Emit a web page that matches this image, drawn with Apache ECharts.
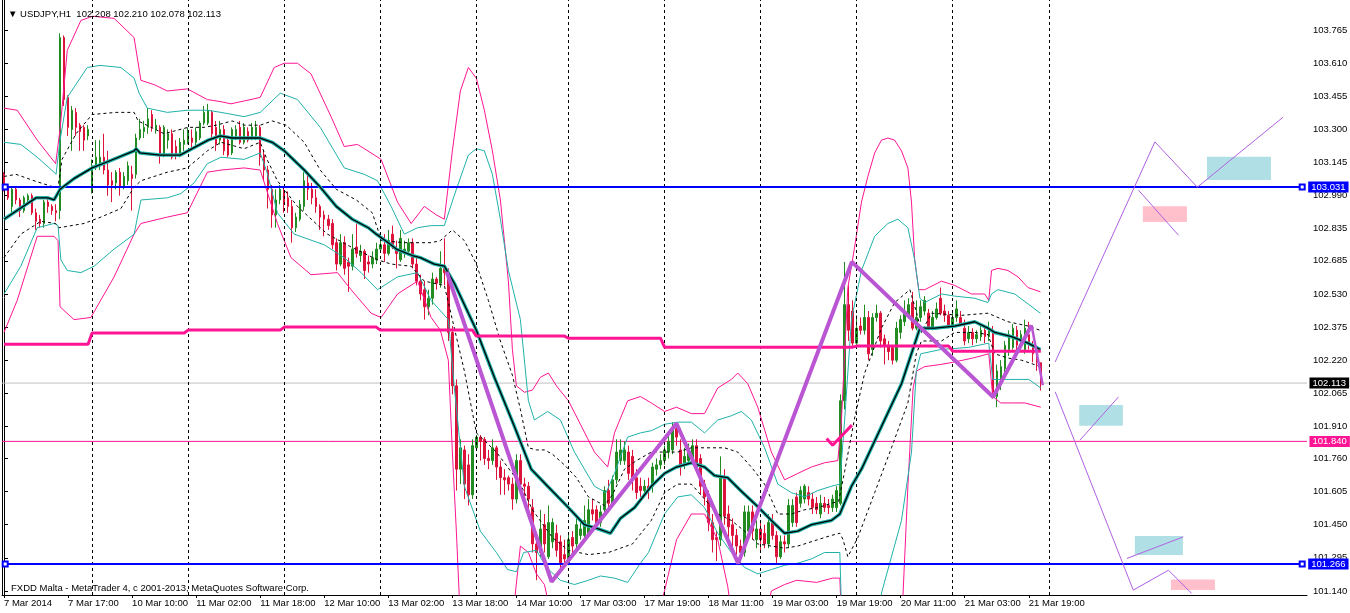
<!DOCTYPE html>
<html><head><meta charset="utf-8">
<script src="https://cdn.jsdelivr.net/npm/echarts@6/dist/echarts.min.js"></script>
<style>html,body{margin:0;padding:0;background:#fff;}#c{width:1350px;height:613px;}</style>
</head><body><div id="c"></div>
<script>
const FONT = '"Liberation Sans", Arial, sans-serif';
const N_SLOTS = 326;
const TICK_STEP = 16;
const tickLabels = ['7 Mar 2014','7 Mar 17:00','10 Mar 10:00','11 Mar 02:00','11 Mar 18:00','12 Mar 10:00','13 Mar 02:00','13 Mar 18:00','14 Mar 10:00','17 Mar 03:00','17 Mar 19:00','18 Mar 11:00','19 Mar 03:00','19 Mar 19:00','20 Mar 11:00','21 Mar 03:00','21 Mar 19:00'];
const yTicks = [103.765,103.610,103.455,103.300,103.145,102.990,102.835,102.685,102.530,102.375,102.220,102.065,101.910,101.760,101.605,101.450,101.295,101.140];
const Y_MIN = 101.121, Y_MAX = 103.906;
const dayStarts = [22,46,70,94,118,141,165,189,213,237,261];

// [open, close, low, high]
const candles = [
[103.09,103.03,103.01,103.10],[103.03,102.98,102.97,103.04],[102.94,103.02,102.91,103.03],[103.02,102.97,102.95,103.03],[102.97,102.92,102.89,102.98],
[102.92,102.98,102.91,102.99],[102.97,102.99,102.96,103.00],[102.99,102.91,102.90,103.00],[102.91,102.87,102.83,102.93],[102.88,102.86,102.84,102.90],
[102.86,102.96,102.84,102.97],[102.96,102.94,102.91,102.98],[102.94,102.92,102.90,102.95],[102.92,102.91,102.87,102.95],[102.92,103.73,102.88,103.75],
[103.73,103.44,103.41,103.74],[103.45,103.31,103.27,103.46],[103.30,103.39,103.20,103.41],[103.38,103.31,103.27,103.40],[103.32,103.29,103.20,103.33],
[103.31,103.25,103.20,103.32],[103.27,103.30,103.25,103.32],[103.01,103.13,103.00,103.16],[103.12,103.17,103.11,103.25],[103.13,103.17,103.11,103.25],
[103.17,103.11,103.09,103.28],[103.11,103.04,102.99,103.20],[103.06,103.04,102.96,103.10],[103.05,103.10,103.02,103.11],[103.10,103.03,102.99,103.12],
[103.03,103.08,103.02,103.10],[103.06,103.13,103.04,103.15],[103.09,103.07,102.92,103.13],[103.09,103.26,103.07,103.28],[103.26,103.30,103.25,103.35],
[103.29,103.31,103.26,103.34],[103.31,103.35,103.28,103.40],[103.37,103.31,103.29,103.39],[103.30,103.32,103.28,103.35],[103.31,103.18,103.14,103.32],
[103.18,103.31,103.17,103.32],[103.25,103.28,103.21,103.30],[103.28,103.17,103.16,103.30],[103.22,103.18,103.16,103.25],[103.18,103.24,103.17,103.26],
[103.23,103.25,103.20,103.30],[103.24,103.29,103.23,103.31],[103.26,103.24,103.21,103.30],[103.24,103.29,103.22,103.31],[103.26,103.33,103.25,103.34],
[103.33,103.38,103.32,103.41],[103.33,103.39,103.32,103.42],[103.38,103.28,103.25,103.39],[103.31,103.23,103.20,103.34],[103.25,103.30,103.23,103.34],
[103.30,103.20,103.18,103.32],[103.25,103.18,103.17,103.27],[103.19,103.30,103.18,103.31],[103.27,103.30,103.25,103.32],[103.31,103.24,103.23,103.34],
[103.24,103.31,103.23,103.33],[103.29,103.25,103.24,103.31],[103.26,103.31,103.25,103.33],[103.27,103.31,103.25,103.34],[103.31,103.17,103.13,103.32],
[103.18,103.11,103.06,103.20],[103.11,103.02,102.93,103.13],[103.02,102.90,102.84,103.04],[102.90,102.97,102.84,103.02],[102.97,103.02,102.95,103.04],
[103.01,102.95,102.91,103.03],[102.98,102.94,102.91,103.01],[102.94,102.84,102.77,102.97],[102.84,102.89,102.82,102.91],[102.88,102.95,102.87,102.97],
[102.94,103.06,102.92,103.10],[103.05,103.02,102.97,103.09],[103.02,102.98,102.95,103.05],[102.98,102.94,102.91,103.02],[102.94,102.89,102.83,102.95],
[102.90,102.88,102.80,102.92],[102.88,102.85,102.83,102.90],[102.86,102.76,102.74,102.88],[102.77,102.67,102.64,102.79],[102.67,102.77,102.66,102.81],
[102.77,102.65,102.62,102.80],[102.68,102.66,102.54,102.70],[102.66,102.74,102.64,102.81],[102.75,102.72,102.70,102.86],[102.71,102.73,102.68,102.76],
[102.73,102.64,102.60,102.74],[102.68,102.67,102.63,102.71],[102.67,102.70,102.65,102.73],[102.69,102.74,102.67,102.77],[102.74,102.76,102.73,102.78],
[102.76,102.72,102.68,102.81],[102.72,102.78,102.71,102.83],[102.81,102.75,102.74,102.85],[102.74,102.72,102.65,102.78],[102.69,102.79,102.68,102.83],
[102.72,102.74,102.70,102.78],[102.73,102.77,102.71,102.79],[102.77,102.67,102.65,102.79],[102.67,102.59,102.57,102.70],[102.59,102.53,102.50,102.62],
[102.55,102.47,102.41,102.59],[102.47,102.51,102.43,102.55],[102.51,102.60,102.48,102.63],[102.60,102.58,102.55,102.61],[102.58,102.65,102.56,102.73],
[102.65,102.63,102.57,102.79],[102.63,102.35,102.31,102.65],[102.35,102.10,102.06,102.38],[102.10,101.71,101.61,102.13],[101.71,101.81,101.64,101.85],
[101.80,101.64,101.57,101.82],[101.73,101.59,101.54,101.78],[101.59,101.82,101.57,101.85],[101.81,101.86,101.80,101.87],[101.86,101.84,101.75,101.87],
[101.85,101.76,101.73,101.86],[101.76,101.75,101.71,101.80],[101.75,101.81,101.73,101.85],[101.81,101.72,101.66,101.82],[101.72,101.67,101.59,101.75],
[101.67,101.66,101.59,101.71],[101.67,101.64,101.61,101.68],[101.64,101.57,101.52,101.67],[101.57,101.75,101.55,101.78],[101.75,101.64,101.61,101.78],
[101.64,101.63,101.58,101.67],[101.63,101.57,101.52,101.65],[101.53,101.36,101.32,101.57],[101.36,101.32,101.19,101.38],[101.32,101.43,101.30,101.52],
[101.45,101.36,101.32,101.50],[101.30,101.46,101.29,101.54],[101.37,101.46,101.34,101.48],[101.41,101.33,101.30,101.45],[101.37,101.27,101.24,101.40],
[101.31,101.29,101.25,101.38],[101.27,101.38,101.26,101.41],[101.39,101.35,101.31,101.42],[101.36,101.45,101.34,101.50],[101.40,101.43,101.38,101.46],
[101.40,101.47,101.38,101.54],[101.41,101.52,101.40,101.57],[101.52,101.50,101.47,101.57],[101.52,101.46,101.44,101.54],[101.46,101.51,101.44,101.54],
[101.52,101.61,101.50,101.63],[101.61,101.55,101.53,101.66],[101.55,101.66,101.54,101.68],[101.66,101.79,101.64,101.85],[101.75,101.80,101.73,101.85],
[101.75,101.80,101.73,101.84],[101.79,101.69,101.66,101.82],[101.77,101.67,101.61,101.80],[101.67,101.60,101.57,101.71],[101.63,101.61,101.58,101.67],
[101.61,101.63,101.59,101.66],[101.63,101.61,101.57,101.67],[101.63,101.72,101.60,101.74],[101.71,101.73,101.68,101.76],[101.73,101.75,101.71,101.78],
[101.75,101.80,101.73,101.82],[101.79,101.84,101.76,101.87],[101.80,101.90,101.78,101.93],[101.90,101.86,101.82,101.92],[101.80,101.72,101.68,101.85],
[101.74,101.77,101.71,101.81],[101.75,101.80,101.73,101.83],[101.76,101.82,101.74,101.85],[101.82,101.72,101.70,101.85],[101.76,101.63,101.59,101.78],
[101.64,101.58,101.54,101.66],[101.59,101.46,101.42,101.61],[101.46,101.38,101.32,101.50],[101.39,101.38,101.28,101.42],[101.38,101.67,101.35,101.77],
[101.67,101.49,101.45,101.71],[101.50,101.44,101.35,101.54],[101.45,101.40,101.34,101.48],[101.40,101.35,101.31,101.43],[101.35,101.32,101.27,101.38],
[101.32,101.51,101.30,101.54],[101.42,101.51,101.40,101.54],[101.51,101.42,101.38,101.54],[101.38,101.43,101.34,101.47],[101.43,101.38,101.33,101.47],
[101.41,101.36,101.34,101.45],[101.36,101.46,101.34,101.50],[101.46,101.40,101.38,101.50],[101.40,101.30,101.27,101.42],[101.30,101.37,101.29,101.40],
[101.37,101.36,101.32,101.40],[101.36,101.54,101.34,101.57],[101.46,101.54,101.44,101.57],[101.58,101.46,101.44,101.60],[101.55,101.61,101.53,101.63],
[101.57,101.63,101.55,101.64],[101.60,101.57,101.54,101.63],[101.57,101.53,101.50,101.60],[101.55,101.52,101.50,101.58],[101.50,101.55,101.48,101.59],
[101.55,101.53,101.51,101.58],[101.54,101.53,101.50,101.57],[101.53,101.57,101.51,101.59],[101.53,101.61,101.51,101.63],[101.55,102.03,101.54,102.06],
[102.03,102.48,101.99,102.68],[102.48,102.36,102.31,102.57],[102.45,102.30,102.28,102.50],[102.30,102.37,102.29,102.43],[102.38,102.36,102.34,102.42],
[102.36,102.42,102.34,102.48],[102.42,102.25,102.22,102.45],[102.27,102.42,102.24,102.44],[102.42,102.44,102.40,102.48],[102.44,102.31,102.28,102.45],
[102.32,102.29,102.20,102.34],[102.29,102.26,102.22,102.31],[102.28,102.22,102.20,102.29],[102.22,102.37,102.21,102.40],[102.35,102.41,102.32,102.43],
[102.40,102.44,102.38,102.50],[102.43,102.48,102.42,102.51],[102.49,102.37,102.36,102.54],[102.37,102.42,102.36,102.50],[102.42,102.47,102.40,102.50],
[102.45,102.50,102.43,102.52],[102.44,102.37,102.36,102.46],[102.37,102.42,102.36,102.45],[102.42,102.46,102.41,102.49],[102.51,102.44,102.43,102.56],
[102.45,102.43,102.40,102.48],[102.43,102.38,102.37,102.45],[102.38,102.42,102.37,102.45],[102.42,102.46,102.40,102.50],[102.42,102.39,102.38,102.45],
[102.37,102.31,102.29,102.41],[102.32,102.35,102.30,102.38],[102.35,102.32,102.29,102.37],[102.32,102.34,102.30,102.36],[102.33,102.36,102.31,102.38],
[102.36,102.33,102.30,102.38],[102.33,102.36,102.31,102.40],[102.36,102.07,102.04,102.38],[102.05,102.17,102.00,102.20],[102.11,102.19,102.08,102.22],
[102.18,102.29,102.16,102.31],[102.27,102.34,102.24,102.36],[102.28,102.37,102.27,102.39],[102.36,102.29,102.26,102.38],[102.29,102.34,102.26,102.36],
[102.27,102.37,102.25,102.41],[102.34,102.29,102.27,102.40],[102.29,102.25,102.21,102.31],[102.25,102.21,102.17,102.27],[102.208,102.113,102.078,102.210]
];

// indicator lines, [bar index, price]
const maLine = [[0,102.88],[4,102.93],[8,102.98],[11,102.98],[12.5,102.97],[14,103.02],[17.5,103.07],[22,103.12],[26,103.15],[32.5,103.20],[33,103.21],[34,103.19],[39,103.18],[44,103.18],[47,103.21],[51,103.25],[54,103.27],[57,103.26],[60,103.26],[64,103.26],[67,103.24],[70,103.20],[75,103.11],[79,103.03],[83,102.94],[87,102.88],[91,102.84],[93,102.81],[96,102.77],[98,102.74],[102,102.71],[104,102.70],[107.5,102.67],[110,102.66],[112.5,102.58],[118,102.36],[122.5,102.14],[127.5,101.91],[131.7,101.71],[135.8,101.63],[141,101.53],[145,101.45],[148.5,101.43],[151.5,101.41],[154,101.48],[157.5,101.53],[161.7,101.63],[165,101.69],[168,101.72],[171.7,101.74],[175,101.72],[177.5,101.68],[180.8,101.67],[184,101.61],[188,101.54],[191.7,101.47],[195,101.41],[198.3,101.42],[201.7,101.45],[206.7,101.47],[208.8,101.50],[211.7,101.63],[214.2,101.71],[219.2,101.91],[224.2,102.11],[228.8,102.37],[232.5,102.37],[237.5,102.38],[242.5,102.40],[245.8,102.37],[247.5,102.35],[251.7,102.33],[255.8,102.30],[258.9,102.27]];
const bandInnerUp = [[0,103.08],[3,103.09],[7.5,103.06],[12.5,103.03],[13.5,103.03],[14.5,103.16],[18,103.28],[22,103.37],[28,103.38],[32.5,103.38],[33.5,103.34],[40,103.28],[46,103.31],[50,103.31],[53,103.32],[57,103.34],[60,103.32],[64,103.32],[67,103.34],[70.5,103.32],[75,103.24],[79,103.11],[83,103.02],[88,102.97],[92,102.91],[94.3,102.78],[100,102.77],[106.7,102.77],[109,102.78],[112,102.83],[115,102.78],[118,102.67],[121,102.50],[124,102.31],[127,102.15],[129,101.99],[131,101.81],[133,101.80],[135,101.80],[137,101.78],[140,101.73],[143,101.67],[146,101.58],[150,101.54],[152,101.59],[155,101.71],[158,101.75],[161.7,101.79],[165,101.79],[168.3,101.79],[171.7,101.81],[175,101.81],[180,101.81],[183.3,101.79],[186.7,101.72],[190,101.64],[193.3,101.50],[196.7,101.50],[200,101.52],[203.3,101.53],[206.7,101.55],[208.5,101.56],[210,101.70],[212.5,101.95],[215,102.16],[219.2,102.37],[222.5,102.49],[226.3,102.55],[228,102.44],[229.2,102.35],[231.7,102.44],[239.2,102.43],[245.8,102.44],[250.8,102.40],[255.8,102.38],[258.8,102.36]];
const bandInnerDn = [[0,102.70],[4.2,102.81],[9.2,102.87],[12.9,102.86],[13.75,102.84],[20,102.86],[24.2,102.89],[29.2,102.93],[32.5,103.03],[34.2,103.06],[40.8,103.10],[45.8,103.12],[50.8,103.20],[54.2,103.24],[60,103.21],[64,103.24],[65.7,103.16],[68.3,103.06],[73.3,102.94],[80.8,102.81],[86.7,102.75],[93.3,102.69],[96.7,102.67],[101.7,102.66],[105,102.59],[110,102.57],[112,102.41],[115,102.17],[118,101.88],[123,101.79],[129,101.64],[132,101.52],[137,101.39],[141,101.33],[146,101.31],[151,101.32],[154,101.34],[157,101.36],[161.7,101.47],[165,101.60],[168.3,101.64],[171.7,101.64],[175,101.57],[178.3,101.50],[181.7,101.47],[185,101.42],[188.3,101.36],[191.7,101.35],[195,101.34],[198.3,101.35],[203.3,101.38],[206.7,101.40],[208.8,101.41],[209.6,101.38],[210.8,101.30],[213.3,101.39],[217.5,101.60],[221.7,101.81],[225.8,102.02],[227.9,102.25],[229.2,102.31],[234.2,102.31],[237.5,102.35],[242.5,102.35],[245.8,102.34],[247.5,102.25],[250.8,102.23],[254.2,102.22],[258.9,102.19]];
const bandMidUp = [[0,103.24],[4.2,103.23],[8.3,103.17],[12.5,103.10],[13,103.09],[14,103.25],[15.8,103.45],[20.8,103.59],[24,103.60],[29.2,103.59],[32.5,103.54],[33.75,103.47],[35.8,103.40],[40.8,103.38],[45.8,103.39],[50.8,103.39],[54.2,103.38],[60,103.36],[64,103.38],[69,103.47],[73.3,103.44],[79,103.31],[85,103.12],[90,103.09],[93.3,103.06],[96.7,102.94],[100,102.81],[103.3,102.84],[106.7,102.85],[110,102.85],[113,103.02],[116,103.18],[118,103.21],[120,103.20],[122,103.09],[124,102.88],[126,102.64],[129,102.41],[131,102.03],[132.5,101.94],[135.8,101.98],[139,101.94],[142.5,101.79],[147.5,101.63],[150.4,101.60],[152.5,101.69],[155.8,101.86],[159,101.88],[161.7,101.89],[165,101.92],[168.3,101.93],[171.7,101.93],[175,101.88],[178.3,101.94],[181.7,101.96],[184.2,101.98],[186.7,101.94],[190,101.81],[193.3,101.64],[196.7,101.60],[200,101.58],[203.3,101.61],[206.7,101.63],[208.8,101.64],[210,101.94],[211.7,102.41],[214.2,102.64],[217.5,102.80],[220.8,102.86],[223.3,102.88],[225.8,102.84],[227.5,102.69],[228.8,102.51],[230,102.49],[234.2,102.53],[237.5,102.52],[242.5,102.51],[245.8,102.49],[246.7,102.53],[248.3,102.55],[252.5,102.53],[258.9,102.44]];
const bandMidDn = [[0,102.53],[4.2,102.66],[8.3,102.84],[12.5,102.86],[13.5,102.85],[14.2,102.69],[15.8,102.64],[19.2,102.63],[22.5,102.66],[27.5,102.74],[32.5,102.81],[34.2,102.97],[40.8,102.98],[44.2,103.00],[47.5,103.05],[50.8,103.14],[54.2,103.17],[60,103.16],[64,103.19],[65.7,103.10],[68.3,102.91],[72.5,102.81],[80,102.76],[85,102.70],[89.2,102.63],[93.3,102.55],[98.3,102.61],[103.3,102.63],[106.7,102.50],[111,102.41],[112.5,102.09],[115,101.63],[119,101.42],[123,101.32],[125.8,101.24],[128,101.23],[129.8,101.32],[133,101.33],[135.5,101.25],[139,101.19],[142.5,101.17],[146,101.19],[149,101.21],[152.5,101.20],[155.8,101.18],[159,101.27],[161,101.32],[165,101.50],[168.3,101.58],[171.7,101.59],[175,101.53],[178.3,101.41],[181.7,101.32],[185,101.25],[188.3,101.22],[191.7,101.24],[195,101.26],[198.3,101.27],[201.7,101.29],[205,101.32],[208.8,101.32],[209.5,100.86],[218,100.86],[219.2,101.13],[224.2,101.47],[226.7,101.79],[227.9,102.17],[229,102.25],[234,102.27],[241,102.28],[246,102.30],[247,102.13],[251,102.13],[256,102.13],[259,102.09]];
const bandOutUp = [[0,103.40],[3.3,103.39],[8.3,103.25],[12.9,103.14],[14,103.30],[15.8,103.67],[19.2,103.81],[22.1,103.83],[27.5,103.82],[32.5,103.73],[34.2,103.53],[37.5,103.51],[40.8,103.48],[45.8,103.49],[50.8,103.44],[54.2,103.43],[56.7,103.42],[64,103.45],[67.5,103.59],[70,103.61],[73.3,103.61],[76.7,103.56],[81.7,103.36],[85,103.22],[88.3,103.23],[91.7,103.19],[94.2,103.16],[98.3,102.96],[101.7,102.86],[105,102.94],[108,102.90],[110,102.88],[112,103.20],[114,103.48],[116,103.59],[118,103.54],[120,103.39],[122,103.20],[124,102.97],[126,102.59],[127,102.27],[128,102.10],[130,102.07],[132,102.08],[134,102.14],[136,102.16],[138,102.10],[141,102.03],[144,101.92],[147.5,101.79],[150.8,101.72],[152.5,101.88],[155.8,102.03],[159,102.05],[161.7,102.02],[165,101.98],[168,102.00],[171.7,101.97],[175,101.97],[178.3,102.09],[181.7,102.13],[183.3,102.16],[185.8,102.11],[188.3,102.00],[191.7,101.79],[195,101.66],[198.3,101.69],[201.7,101.72],[205,101.74],[208.3,101.75],[209.2,101.94],[210.8,102.56],[212.5,102.75],[214.2,102.96],[215.8,103.08],[217.5,103.19],[219.2,103.25],[220.8,103.26],[222.5,103.25],[224.2,103.20],[225.8,103.12],[226.7,102.96],[227.5,102.69],[228.5,102.55],[230,102.55],[234.2,102.59],[237.5,102.57],[241.7,102.53],[245,102.53],[246,102.50],[246.7,102.64],[248.3,102.65],[250.8,102.64],[253.3,102.61],[255.8,102.56],[258.9,102.54]];
const bandOutDn = [[0,102.35],[3.3,102.50],[8.3,102.80],[12.5,102.80],[13.5,102.78],[14,102.47],[17.5,102.41],[21.7,102.42],[27.5,102.61],[32.5,102.81],[34.2,102.86],[40.8,102.89],[45.8,102.91],[50.8,103.10],[54.2,103.11],[60,103.12],[64,103.11],[68.3,102.86],[71.7,102.70],[76.7,102.62],[83.3,102.63],[86.7,102.55],[91.7,102.44],[94.2,102.42],[98.3,102.53],[103.3,102.59],[106.7,102.42],[109,102.36],[111,102.22],[112,101.79],[113,101.42],[114,101.00],[127,101.00],[129,101.35],[131,101.32],[133,101.22],[135,101.17],[137,101.00],[163,101.00],[165,101.14],[168,101.38],[171.7,101.50],[175,101.50],[178.3,101.38],[180.8,101.16],[182,101.00],[190,101.00],[191.7,101.14],[195,101.17],[198,101.19],[203,101.18],[207,101.20],[208.8,101.20],[209.5,100.86],[224,100.86],[224.6,101.13],[225.8,101.63],[227.1,102.09],[228,102.17],[230,102.19],[234,102.20],[237,102.21],[242,102.23],[246,102.25],[247,102.05],[249,102.02],[252,102.02],[255,102.02],[259,102.00]];

// daily stepped level (one value per trading day, starting bar index)
const stepDayStarts = [0,22,46,70,94,118,141,165,189,213,237];
const stepValues = [102.295,102.347,102.361,102.375,102.361,102.333,102.323,102.281,102.281,102.286,102.262];
const LAST_BAR = 259;

// horizontal levels
const supportResistance = [103.031, 101.266];
const alertLevel = 101.840;
const bidPrice = 102.113;

// zigzag pivots
const zigzag = [[110.6,102.633],[136.8,101.183],[168.0,101.924],[183.4,101.269],[211.8,102.680],[247.1,102.048],[256.7,102.384]];
const zigzagTail = [[256.7,102.384],[259.5,102.103]];
const checkMark = [[205.5,101.854],[207.0,101.822],[211.8,101.916]];
const projections = [
  [[262.6,102.212],[287.5,103.242],[298.1,103.030],[319.5,103.357]],
  [[283.4,103.016],[293.4,102.805]],
  [[262.6,102.072],[282.1,101.144],[290.9,101.237],[296.7,101.128]],
  [[268.8,101.846],[278.4,102.048]],
  [[280.5,101.292],[294.6,101.393]]
];
const boxesBlue = [[[300.5,103.172],[316.5,103.063]],[[268.6,102.010],[279.5,101.913]],[[282.5,101.397],[294.5,101.308]]];
const boxesPink = [[[284.5,102.941],[295.5,102.867]],[[291.5,101.194],[302.5,101.144]]];

const slots = Array.from({length: N_SLOTS}, (_, i) => String(i));
const isTick = (i) => i % TICK_STEP === 0 && i / TICK_STEP < tickLabels.length;
const X_LEFT = -0.5, X_RIGHT = N_SLOTS - 0.5;

const stepLine = [];
stepDayStarts.forEach((s, i) => {
  const e = i + 1 < stepDayStarts.length ? stepDayStarts[i + 1] - 1 : LAST_BAR;
  stepLine.push([s, stepValues[i]], [e, stepValues[i]]);
});

function ln(data, color, width, type, z) {
  return {type: 'line', xAxisIndex: 1, yAxisIndex: 0, data, symbol: 'none', silent: true,
    lineStyle: {color, width, type: type || 'solid'}, z: z || 4, clip: true, animation: false};
}
function priceTag(price, bg) {
  return {coord: [X_RIGHT, price], symbol: 'rect', symbolSize: 1, itemStyle: {color: 'rgba(0,0,0,0)'},
    label: {show: true, position: 'right', distance: 2, formatter: () => price.toFixed(3),
      backgroundColor: bg, color: '#fff', padding: [1, 3, 0, 3], fontSize: 9.5, fontFamily: FONT}};
}

const series = [];
series.push({type: 'line', xAxisIndex: 1, data: [], silent: true, z: 1,
  markArea: {silent: true, data: [
    ...boxesBlue.map(b => [{coord: b[0], itemStyle: {color: '#b0e0e6', opacity: 1}}, {coord: b[1]}]),
    ...boxesPink.map(b => [{coord: b[0], itemStyle: {color: '#ffc0cb', opacity: 1}}, {coord: b[1]}])
  ]}});
series.push({type: 'line', xAxisIndex: 1, data: [], silent: true, z: 1,
  markLine: {silent: true, symbol: 'none', label: {show: false}, animation: false,
    lineStyle: {color: '#000', width: 1, type: [3, 3]},
    data: dayStarts.map(d => ({xAxis: d}))}});
series.push(ln([[X_LEFT, bidPrice], [X_RIGHT, bidPrice]], '#c0c0c0', 1, 'solid', 2));
series.push(ln([[X_LEFT, alertLevel], [X_RIGHT, alertLevel]], '#ff1493', 1, 'solid', 2));
series.push({type: 'line', xAxisIndex: 1, data: [], silent: true, z: 8,
  markPoint: {silent: true, animation: false, data: [priceTag(bidPrice, '#000'), priceTag(alertLevel, '#ff1493')]}});
series.push({type: 'candlestick', xAxisIndex: 0, yAxisIndex: 0, data: candles, barWidth: 2, z: 3, silent: true, animation: false,
  itemStyle: {color: '#228b22', color0: '#dc143c', borderColor: '#228b22', borderColor0: '#dc143c', borderWidth: 1}});
series.push(ln(bandOutUp, '#ff1493', 1));
series.push(ln(bandOutDn, '#ff1493', 1));
series.push(ln(bandMidUp, '#20b2aa', 1));
series.push(ln(bandMidDn, '#20b2aa', 1));
series.push(ln(bandInnerUp, '#000', 1, [3, 3]));
series.push(ln(bandInnerDn, '#000', 1, [3, 3]));
series.push(ln(maLine, '#20b2aa', 3.5, 'solid', 5));
series.push(ln(maLine, '#000', 1.3, 'solid', 5));
series.push(ln(stepLine, '#ff1493', 3, 'solid', 5));
series.push({type: 'line', xAxisIndex: 1, data: [], silent: true, z: 6, color: '#0000ff',
  markLine: {silent: true, animation: false, symbol: ['emptyRect', 'emptyRect'], symbolSize: 5,
    lineStyle: {color: '#0000ff', width: 2, type: 'solid'},
    label: {show: true, position: 'end', distance: 6, backgroundColor: '#0000ff', color: '#fff', padding: [1, 3, 0, 3], fontSize: 9.5, fontFamily: FONT},
    data: supportResistance.map(p => [{coord: [0.3, p], label: {formatter: () => p.toFixed(3)}}, {coord: [324.3, p]}])}});
series.push(ln(zigzag, '#ba55d3', 4, 'solid', 7));
series.push(ln(zigzagTail, '#ba55d3', 2.5, 'solid', 7));
projections.forEach(p => series.push(ln(p, '#b060e0', 1, 'solid', 7)));
series.push(ln(checkMark, '#ff1493', 3, 'solid', 7));

const chart = echarts.init(document.getElementById('c'), null, {renderer: 'canvas'});
chart.setOption({
  animation: false,
  backgroundColor: '#fff',
  textStyle: {fontFamily: FONT},
  title: [
    {text: '\u25BC USDJPY,H1  102.208 102.210 102.078 102.113', left: 3, top: 4,
      textStyle: {fontSize: 9.5, fontWeight: 'normal', color: '#000', fontFamily: FONT}},
    {text: 'FXDD Malta - MetaTrader 4, c 2001-2013, MetaQuotes Software Corp.', left: 6, top: 578,
      textStyle: {fontSize: 9.5, fontWeight: 'normal', color: '#000', fontFamily: FONT}}
  ],
  grid: {left: 2, top: 0, width: 1305, height: 595, containLabel: false, outerBoundsMode: 'none'},
  xAxis: [
    {type: 'category', data: slots, boundaryGap: true,
      axisLine: {show: true, lineStyle: {color: '#000', width: 1}},
      axisTick: {show: true, alignWithLabel: true, length: 3, interval: (i) => isTick(i), lineStyle: {color: '#000'}},
      axisLabel: {show: true, interval: (i) => isTick(i), formatter: (v, i) => tickLabels[i / TICK_STEP] || '',
        align: 'left', margin: 3, fontSize: 9.5, color: '#000', fontFamily: FONT},
      splitLine: {show: false}},
    {type: 'value', min: X_LEFT, max: X_RIGHT, show: false}
  ],
  yAxis: [
    {type: 'value', position: 'right', min: Y_MIN, max: Y_MAX, scale: true,
      axisLine: {show: true, lineStyle: {color: '#000', width: 1}},
      axisTick: {show: true, length: 4, customValues: yTicks, lineStyle: {color: '#000'}},
      axisLabel: {show: true, customValues: yTicks, formatter: (v) => v.toFixed(3), margin: 6, fontSize: 9.5, color: '#000', fontFamily: FONT},
      splitLine: {show: false}},
    {type: 'value', position: 'left', min: Y_MIN, max: Y_MAX, scale: true,
      axisLine: {show: true, lineStyle: {color: '#000', width: 1}},
      axisTick: {show: false}, axisLabel: {show: false}, splitLine: {show: false}}
  ],
  series
});
</script></body></html>
